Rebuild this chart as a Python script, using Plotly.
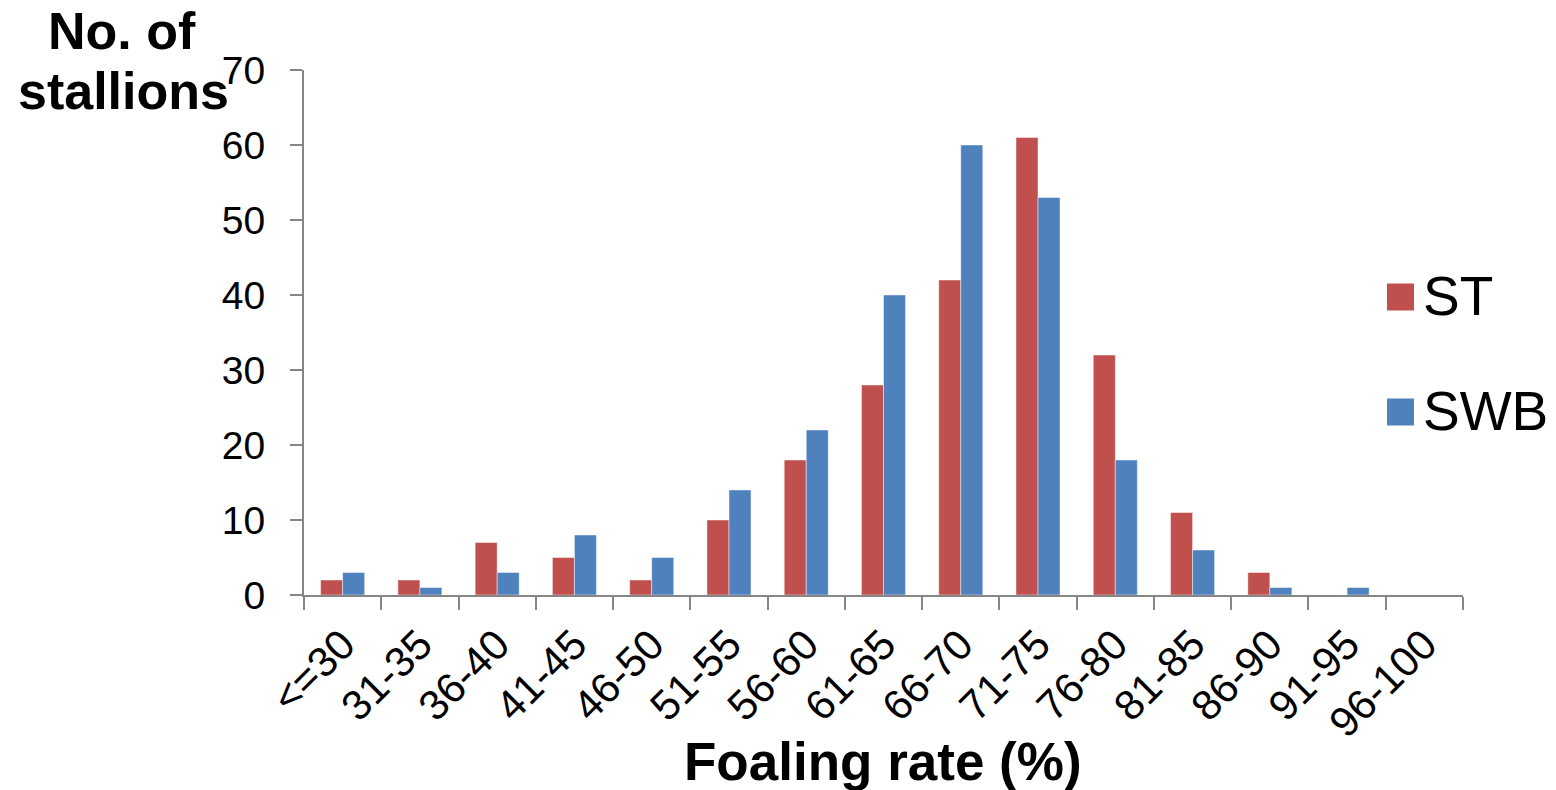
import plotly.graph_objects as go

categories = ["<=30", "31-35", "36-40", "41-45", "46-50", "51-55", "56-60", "61-65",
              "66-70", "71-75", "76-80", "81-85", "86-90", "91-95", "96-100"]
st_values = [2, 2, 7, 5, 2, 10, 18, 28, 42, 61, 32, 11, 3, 0, 0]
swb_values = [3, 1, 3, 8, 5, 14, 22, 40, 60, 53, 18, 6, 1, 1, 0]
series_names = ["ST", "SWB"]
series_colors = ["#C0504D", "#4F81BD"]
y_ticks = [0, 10, 20, 30, 40, 50, 60, 70]

FONT = "Liberation Sans, Arial, sans-serif"
W, H = 1556, 790
L, R, T, B = 304, 93, 70, 195
PW, PH = W - L - R, H - T - B

def px_x(x):
    return (x - L) / PW

def px_y(y):
    return (H - B - y) / PH

fig = go.Figure()
for name, vals, col in zip(series_names, [st_values, swb_values], series_colors):
    fig.add_trace(go.Bar(
        x=categories, y=vals, name=name,
        marker=dict(color=col, line=dict(color="rgba(255,255,255,0.45)", width=1)),
        showlegend=False,
    ))

axis_col = "#868686"
fig.update_layout(
    width=W, height=H,
    margin=dict(l=L, r=R, t=T, b=B),
    paper_bgcolor="white", plot_bgcolor="white",
    barmode="group", bargap=0.43, bargroupgap=0,
    font=dict(family=FONT, color="black"),
    xaxis=dict(
        type="category", tickangle=-45, tickson="boundaries",
        ticks="outside", ticklen=13, tickcolor=axis_col, tickwidth=2,
        showline=True, linecolor=axis_col, linewidth=2,
        showgrid=False, tickfont=dict(size=42, family=FONT, color="black"),
        ticklabelstandoff=6,
    ),
    yaxis=dict(
        range=[0, 70], tickvals=y_ticks,
        ticks="outside", ticklen=12, tickcolor=axis_col, tickwidth=2,
        showline=True, linecolor=axis_col, linewidth=2,
        showgrid=False, zeroline=False,
        tickfont=dict(size=39, family=FONT, color="black"),
        ticklabelstandoff=17,
    ),
)

# axis titles
fig.add_annotation(text="<b>Foaling rate (%)</b>", xref="paper", yref="paper",
                   x=px_x(883), y=px_y(761), xanchor="center", yanchor="middle",
                   showarrow=False, font=dict(size=53, family=FONT, color="black"))
fig.add_annotation(text="<b>No. of</b>", xref="paper", yref="paper",
                   x=px_x(122), y=px_y(31), xanchor="center", yanchor="middle",
                   showarrow=False, font=dict(size=52, family=FONT, color="black"))
fig.add_annotation(text="<b>stallions</b>", xref="paper", yref="paper",
                   x=px_x(123), y=px_y(91), xanchor="center", yanchor="middle",
                   showarrow=False, font=dict(size=52, family=FONT, color="black"))

# legend (manual, large squares)
legend_y = [297, 412]
for name, col, cy in zip(series_names, series_colors, legend_y):
    fig.add_shape(type="rect", xref="paper", yref="paper",
                  x0=px_x(1387), x1=px_x(1414), y0=px_y(cy - 13.5), y1=px_y(cy + 13.5),
                  fillcolor=col, line=dict(width=0))
    fig.add_annotation(text=name, xref="paper", yref="paper",
                       x=px_x(1421), y=px_y(cy - 1), xanchor="left", yanchor="middle",
                       showarrow=False, font=dict(size=55, family=FONT, color="black"))

fig.write_html("out.html")
